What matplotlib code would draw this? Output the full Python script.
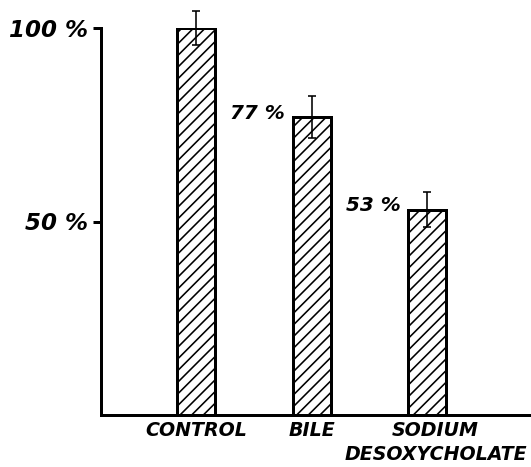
import matplotlib
matplotlib.use("Agg")
import matplotlib.pyplot as plt
from matplotlib.transforms import ScaledTranslation

DPI = 70
W, H = 531, 467


def pt(px):
    """Convert pixels to points at the figure dpi."""
    return px * 72.0 / DPI


categories = ["CONTROL", "BILE", "SODIUM\nDESOXYCHOLATE"]
values = [100, 77, 53]
errors = [4.3, 5.5, 4.5]
value_labels = ["", "77 %", "53 %"]
ytick_values = [50, 100]
ytick_labels = ["50 %", "100 %"]

plt.rcParams["hatch.linewidth"] = pt(1.6)
plt.rcParams["hatch.color"] = "black"

fig = plt.figure(figsize=(W / DPI, H / DPI), dpi=DPI)
ax = fig.add_axes([101 / W, (H - 415) / H, (530 - 101) / W, (415 - 28) / H])

x = list(range(len(categories)))
bar_w = 0.328
ax.bar(x, values, width=bar_w, color="white", edgecolor="black",
       linewidth=pt(3), hatch="//", zorder=2)
ax.errorbar(x, values, yerr=errors, fmt="none", ecolor="black",
            elinewidth=pt(1.6), capsize=pt(4), capthick=pt(1.6),
            clip_on=False, zorder=3)

font = dict(family="DejaVu Sans", style="italic", weight="bold")

for xi, v, lab in zip(x, values, value_labels):
    if lab:
        ax.annotate(lab, xy=(xi - bar_w / 2, v), xytext=(pt(-8), pt(4)),
                    textcoords="offset points", ha="right", va="center",
                    fontsize=pt(20), **font)

ax.set_xlim(-0.821, 2.886)
ax.set_ylim(0, 100)

ax.set_yticks(ytick_values)
ax.set_yticklabels(ytick_labels, fontsize=pt(23), **font)
ax.tick_params(axis="y", direction="out", length=pt(8), width=pt(3),
               pad=pt(5))

ax.set_xticks(x)
ax.set_xticklabels(categories, fontsize=pt(19), linespacing=1.3, **font)
ax.tick_params(axis="x", length=0, pad=pt(6))

# nudge the two-line label slightly to the right
last = ax.get_xticklabels()[-1]
last.set_transform(last.get_transform()
                   + ScaledTranslation(8 / DPI, 0, fig.dpi_scale_trans))

for s in ("top", "right"):
    ax.spines[s].set_visible(False)
ax.spines["left"].set_linewidth(pt(3))
ax.spines["bottom"].set_linewidth(pt(3))

fig.savefig("out.png", dpi=DPI)
